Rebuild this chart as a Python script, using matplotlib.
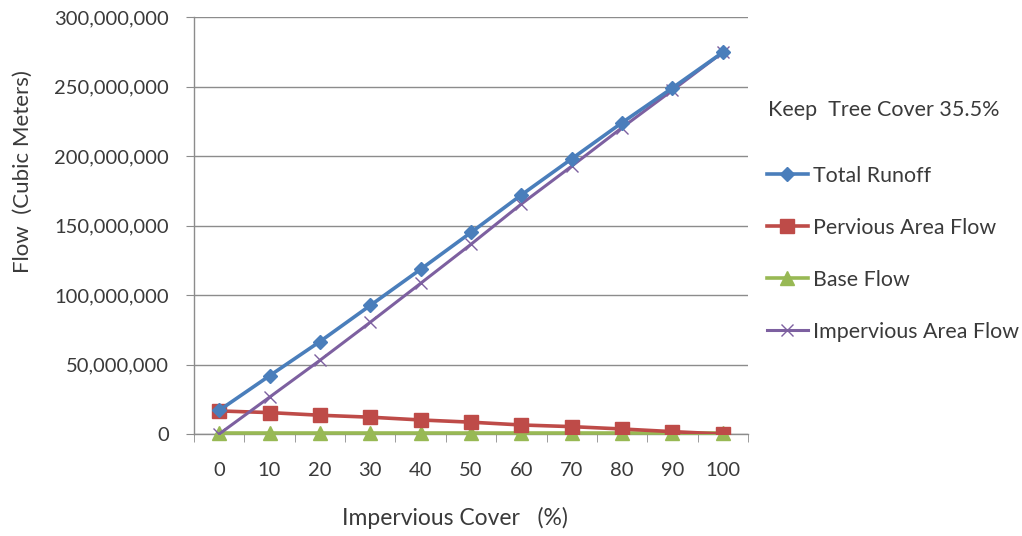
import numpy as np
import matplotlib
matplotlib.use("Agg")
from matplotlib import pyplot as plt
from matplotlib.ticker import FuncFormatter

plt.rcParams['font.family'] = ['Lato', 'DejaVu Sans']

# impervious cover categories (%)
impervious_cover = [0, 10, 20, 30, 40, 50, 60, 70, 80, 90, 100]

# flows in cubic meters
total_runoff = [17.0e6, 41.9e6, 66.5e6, 92.5e6, 118.5e6, 145.0e6, 172.0e6, 198.0e6, 224.0e6, 249.0e6, 274.6e6]
pervious_flow = [16.6e6, 15.4e6, 13.5e6, 12.1e6, 10.1e6, 8.5e6, 6.5e6, 5.3e6, 3.6e6, 1.7e6, 0.0]
base_flow = [0.4e6] * 11
impervious_flow = [0.0, 26.5e6, 53.0e6, 80.4e6, 108.4e6, 136.5e6, 165.5e6, 192.7e6, 220.4e6, 247.3e6, 274.6e6]

series_names = ["Total Runoff", "Pervious Area Flow", "Base Flow", "Impervious Area Flow"]
colors = ["#4A7EBB", "#BE4B48", "#98B954", "#7D60A0"]
text_col = "#3a3a3a"
grid_col = "#8c8c8c"

fig = plt.figure(figsize=(10.22, 5.36), dpi=100)
ax = fig.add_axes([194/1022, 1 - 434/536, 554/1022, 417/536])

pos = np.arange(len(impervious_cover))
ax.plot(pos, total_runoff, color=colors[0], lw=2.6, marker="D", ms=7.5, label=series_names[0], zorder=5)
ax.plot(pos, pervious_flow, color=colors[1], lw=2.6, marker="s", ms=9.5, label=series_names[1], zorder=4)
ax.plot(pos, base_flow, color=colors[2], lw=2.6, marker="^", ms=10, label=series_names[2], zorder=3,
        clip_on=False)
ax.plot(pos, impervious_flow, color=colors[3], lw=2.2, marker="x", ms=8, mew=1.0, label=series_names[3], zorder=4)

ax.set_xlim(-0.5, len(impervious_cover) - 0.5)
ax.set_ylim(0, 300e6)
ax.set_yticks(np.arange(0, 300e6 + 1, 50e6))
ax.yaxis.set_major_formatter(FuncFormatter(lambda v, p: "{:,.0f}".format(v)))
ax.grid(axis="y", color=grid_col, lw=1.0)
ax.set_axisbelow(True)

# category axis: labels centered, tick marks between categories
ax.set_xticks(pos)
ax.set_xticklabels([str(v) for v in impervious_cover])
ax.set_xticks(np.arange(-0.5, len(impervious_cover) + 0.5), minor=True)
ax.tick_params(axis="x", which="major", length=0, pad=20, labelsize=14.5, labelcolor=text_col)
ax.tick_params(axis="x", which="minor", length=6, direction="out", color=grid_col)
ax.tick_params(axis="y", length=6, direction="out", color=grid_col, pad=12, labelsize=14.5, labelcolor=text_col)

for s in ["top", "right"]:
    ax.spines[s].set_visible(False)
for s in ["left", "bottom"]:
    ax.spines[s].set_color(grid_col)
    ax.spines[s].set_linewidth(1.0)

fig.text(23/1022, 1 - 172/536, "Flow  (Cubic Meters)", rotation=90, ha="center", va="center",
         fontsize=16, color=text_col)
fig.text(455/1022, 1 - 518/536, "Impervious Cover   (%)", ha="center", va="center",
         fontsize=16.5, color=text_col)
fig.text(768/1022, 1 - 110/536, "Keep  Tree Cover 35.5%", ha="left", va="center",
         fontsize=15.5, color=text_col)

leg = fig.legend(loc="upper left", bbox_to_anchor=(758/1022, 1 - 157/536), frameon=False,
                 fontsize=15.4, labelspacing=1.5, handlelength=1.95, handletextpad=0.2,
                 borderaxespad=0, labelcolor=text_col)

fig.savefig("out.png", dpi=100, facecolor="white")
